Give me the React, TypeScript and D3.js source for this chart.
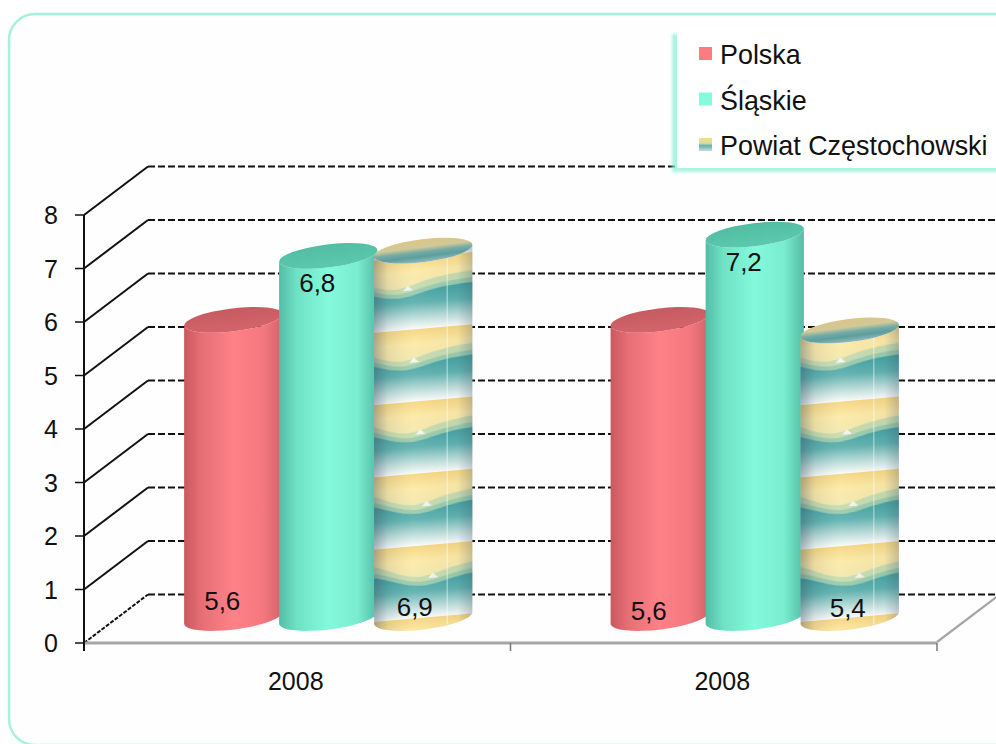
import React from "react";
import * as d3 from "d3";

const groups = ["2008", "2008"];
const seriesNames = ["Polska", "Śląskie", "Powiat Częstochowski"];
const polska = [5.6, 5.6];
const slaskie = [6.8, 7.2];
const powiat = [6.9, 5.4];
const labelPolska = ["5,6", "5,6"];
const labelSlaskie = ["6,8", "7,2"];
const labelPowiat = ["6,9", "5,4"];
const yTicks = [0, 1, 2, 3, 4, 5, 6, 7, 8];

const FONT = "'Liberation Sans', Arial, sans-serif";
const W = 996, H = 744;
const DX = 64, DY = -48.5;
const TILT = -7;
const RX = 49.5, RY = 11.5;

const yAxis = d3.scaleLinear().domain([0, 8]).range([643, 215]);
const yBar = d3.scaleLinear().domain([0, 8]).range([618, 192]);
const xBand = d3.scaleBand<number>().domain(groups.map((_, i) => i)).range([84, 937]);
const xInner = d3.scaleBand<number>().domain([0, 1, 2]).range([-142.5, 142.5]);
const BAR_SHIFT = 31;

const rad = (TILT * Math.PI) / 180;
const ex = RX * Math.cos(rad), ey = RX * Math.sin(rad);

function bodyPath(cx: number, yTop: number, yBase: number) {
  const x0 = cx - ex, x1 = cx + ex;
  return `M${x0},${yTop - ey} L${x0},${yBase - ey} A${RX},${RY} ${TILT} 0 0 ${x1},${yBase + ey} L${x1},${yTop + ey} A${RX},${RY} ${TILT} 0 1 ${x0},${yTop - ey} Z`;
}

const series = [polska, slaskie, powiat];
const bodyFill = (s: number, g: number) => (s === 0 ? "url(#redBody)" : s === 1 ? "url(#greenBody)" : `url(#tex${g})`);
const capFill = ["url(#redCap)", "url(#greenCap)", "url(#texCap)"];

function labelY(s: number, g: number, v: number) {
  if (s === 1) return yBar(v) + 36;
  if (s === 0) return g === 0 ? 610 : 620;
  return g === 0 ? 616 : 617;
}
function labelDx(s: number, g: number) {
  if (s === 2) return g === 0 ? -8.5 : -2;
  return -11;
}

function GradStops({ stops }: { stops: [number, string, number?][] }) {
  return (
    <>
      {stops.map(([o, c, a], i) => (
        <stop key={i} offset={o} stopColor={c} stopOpacity={a ?? 1} />
      ))}
    </>
  );
}

function Tile({ id, x }: { id: string; x: number }) {
  return (
    <pattern id={id} patternUnits="userSpaceOnUse" width={130} height={72}
      patternTransform={`translate(${x},622) rotate(-5)`}>
      <rect width={130} height={72} fill="url(#tileSand)" />
      <path d="M0,17 C15,18 28,30 48,31 C68,31 78,20 130,18 L130,44 L0,44 Z" fill="#c6dcae" />
      <path d="M0,24 C18,25 30,35 50,36 C70,36 80,26 130,25 L130,46 L0,46 Z" fill="#9accae" />
      <path d="M0,28 C18,30 32,40 52,40 C72,40 82,30 130,30 L130,72 L0,72 Z" fill="url(#tileSea)" />
      <path d="M58,33 l5,-5 l5,5 Z" fill="#eef8f0" />
    </pattern>
  );
}

export default function App() {
  const bars = groups.flatMap((_, g) =>
    series.map((vals, s) => {
      const cx = (xBand(g) as number) + xBand.bandwidth() / 2 + BAR_SHIFT + (xInner(s) as number) + xInner.bandwidth() / 2;
      return { g, s, v: vals[g], cx, top: yBar(vals[g]), base: yBar(0) };
    })
  );
  const labels = [labelPolska, labelSlaskie, labelPowiat];
  const axisLeft = xBand.range()[0];
  const axisRight = xBand.range()[1];

  return (
    <svg width={W} height={H} style={{ position: "absolute", left: 0, top: 0, display: "block" }} fontFamily={FONT}>
      <defs>
        <linearGradient id="redBody">
          <GradStops stops={[[0, "#c9595f"], [0.18, "#e66f75"], [0.5, "#ff8188"], [0.8, "#f5787f"], [1, "#d0646a"]]} />
        </linearGradient>
        <linearGradient id="greenBody">
          <GradStops stops={[[0, "#52bda6"], [0.18, "#6fe2c6"], [0.5, "#84f9dc"], [0.8, "#7aecd0"], [1, "#54bca6"]]} />
        </linearGradient>
        <linearGradient id="redCap" x1="0" y1="0" x2="0" y2="1">
          <GradStops stops={[[0, "#c55b61"], [1, "#d4646b"]]} />
        </linearGradient>
        <linearGradient id="greenCap" x1="0" y1="0" x2="0" y2="1">
          <GradStops stops={[[0, "#52bda3"], [1, "#5cc8ad"]]} />
        </linearGradient>
        <linearGradient id="texCap" x1="0" y1="0" x2="0" y2="1">
          <GradStops stops={[[0, "#dcc585"], [0.35, "#cfc99a"], [0.55, "#75aca4"], [0.75, "#5c9da0"], [1, "#94bbbb"]]} />
        </linearGradient>
        <linearGradient id="tileSand" x1="0" y1="0" x2="0" y2="1">
          <GradStops stops={[[0, "#f7d681"], [0.2, "#fdeaa6"], [0.45, "#f2e8b0"], [1, "#f2e8b0"]]} />
        </linearGradient>
        <linearGradient id="tileSea" x1="0" y1="0" x2="0" y2="1">
          <GradStops stops={[[0, "#3f9ea0"], [0.4, "#5fb2b0"], [0.72, "#b8dbd8"], [1, "#fbfdfb"]]} />
        </linearGradient>
        <linearGradient id="cylShade">
          <GradStops stops={[[0, "#3a4a60", 0.4], [0.14, "#3a4a60", 0.1], [0.4, "#fff", 0.05], [0.85, "#3a4a60", 0.04], [1, "#3a4a60", 0.28]]} />
        </linearGradient>
        <linearGradient id="legendTex" x1="0" y1="0" x2="0" y2="1">
          <GradStops stops={[[0, "#f4dc90"], [0.4, "#d8dca0"], [0.6, "#5fb0b0"], [1, "#c8dedc"]]} />
        </linearGradient>
        <filter id="soft" x="-5%" y="-5%" width="110%" height="110%">
          <feGaussianBlur stdDeviation="1.4" />
        </filter>
        {groups.map((_, g) => {
          const b = bars.find((d) => d.g === g && d.s === 2)!;
          return <Tile key={g} id={`tex${g}`} x={b.cx - RX} />;
        })}
      </defs>

      <rect width={W} height={H} fill="#ffffff" />
      <rect x={9} y={14} width={1100} height={731} rx={26} ry={26} fill="#fefefe" stroke="#a4f2dc" strokeWidth={2.5} />

      {/* back wall gridlines */}
      {yTicks.map((t) => (
        <line key={t} x1={axisLeft + DX} x2={axisRight + DX} y1={yAxis(t) + DY} y2={yAxis(t) + DY}
          stroke="#111" strokeWidth={2.2} strokeDasharray="7 3" />
      ))}
      {/* side wall */}
      {yTicks.map((t) => (
        <line key={t} x1={axisLeft} x2={axisLeft + DX} y1={yAxis(t)} y2={yAxis(t) + DY}
          stroke="#111" strokeWidth={2} strokeDasharray={t === 0 ? "4 1.5" : undefined} />
      ))}
      {/* floor */}
      <line x1={axisLeft} x2={axisRight} y1={643} y2={643} stroke="#a6a6a6" strokeWidth={3} />
      <line x1={axisRight} x2={axisRight + DX} y1={642} y2={642 + DY} stroke="#a6a6a6" strokeWidth={2.2} />
      {[axisLeft, axisLeft + xBand.bandwidth(), axisRight].map((x, i) => (
        <line key={i} x1={x} x2={x} y1={643} y2={651} stroke={i === 0 ? "#111" : "#777"} strokeWidth={1.5} />
      ))}
      {/* y axis */}
      <line x1={axisLeft} x2={axisLeft} y1={yAxis(8)} y2={651} stroke="#111" strokeWidth={2} />
      {yTicks.map((t) => (
        <g key={t}>
          <line x1={75} x2={axisLeft} y1={yAxis(t)} y2={yAxis(t)} stroke="#111" strokeWidth={1.5} />
          <text x={58} y={yAxis(t) + 9} textAnchor="end" fontSize={25} fill="#111">{t}</text>
        </g>
      ))}
      {groups.map((g, i) => (
        <text key={i} x={(xBand(i) as number) + xBand.bandwidth() / 2 - 1.5} y={690} textAnchor="middle" fontSize={25} fill="#111">{g}</text>
      ))}

      {/* cylinders */}
      {bars.map((b) => (
        <g key={`${b.g}-${b.s}`}>
          <path d={bodyPath(b.cx, b.top, b.base)} fill={bodyFill(b.s, b.g)} />
          {b.s === 2 && (
            <>
              <path d={bodyPath(b.cx, b.top, b.base)} fill="url(#cylShade)" />
              <line x1={b.cx + 24} x2={b.cx + 24} y1={b.top + 6} y2={b.base + 6} stroke="#fff" strokeOpacity={0.4} strokeWidth={1.5} />
            </>
          )}
          <ellipse cx={b.cx} cy={b.top} rx={RX} ry={RY} fill={capFill[b.s]} transform={`rotate(${TILT} ${b.cx} ${b.top})`} />
        </g>
      ))}
      {bars.map((b) => (
        <text key={`l${b.g}-${b.s}`} x={b.cx + labelDx(b.s, b.g)} y={labelY(b.s, b.g, b.v)}
          textAnchor="middle" fontSize={26} fill="#111">{labels[b.s][b.g]}</text>
      ))}

      {/* legend */}
      <rect x={672} y={34} width={340} height={138} fill="#8ff0d6" opacity={0.75} filter="url(#soft)" />
      <rect x={677} y={28} width={330} height={140} fill="#ffffff" />
      {seriesNames.map((n, i) => {
        const y = d3.scaleLinear().domain([0, 2]).range([55, 146])(i);
        return (
          <g key={n}>
            <rect x={699} y={y - 8} width={13} height={13} fill={["#ff7b82", "#84fbdd", "url(#legendTex)"][i]} />
            <text x={720} y={y + 9} fontSize={26.9} fill="#111">{n}</text>
          </g>
        );
      })}
    </svg>
  );
}
